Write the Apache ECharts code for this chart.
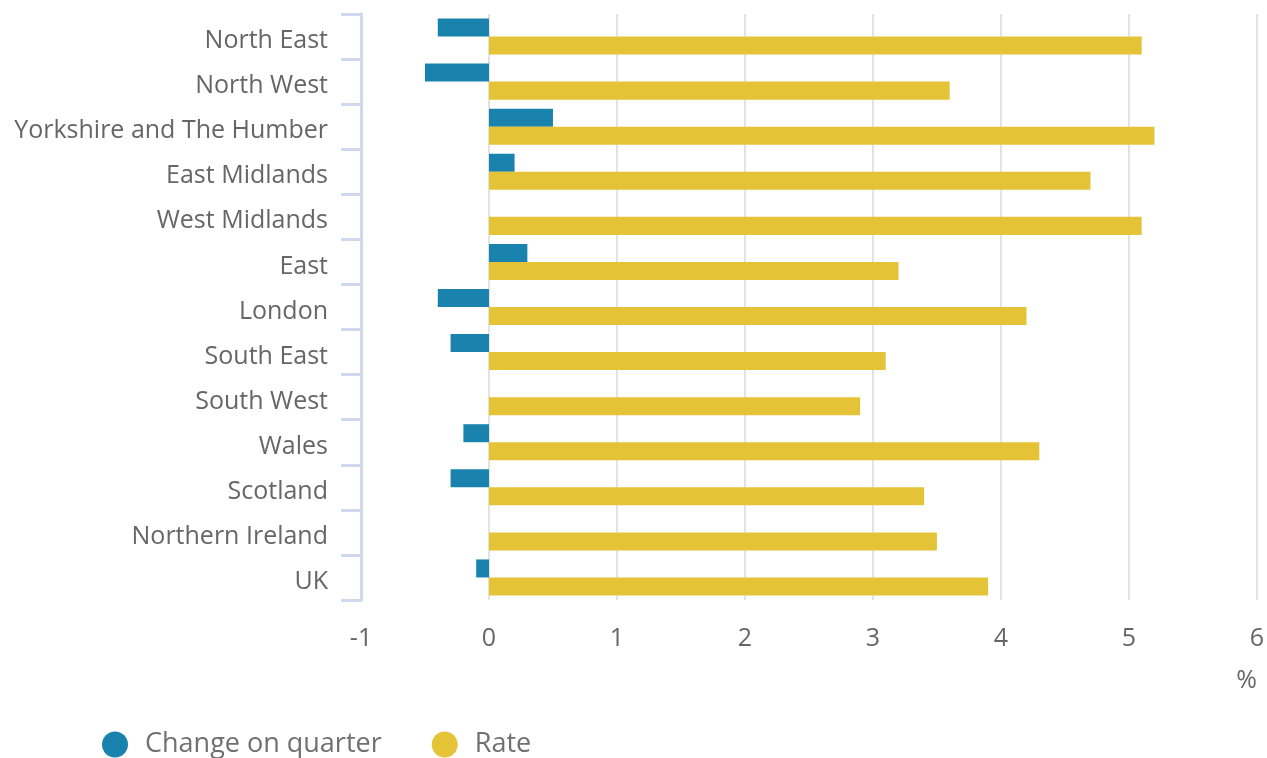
<!DOCTYPE html>
<html>
<head>
<meta charset="utf-8">
<script src="https://cdn.jsdelivr.net/npm/echarts@6/dist/echarts.min.js"></script>
<style>
  html, body { margin: 0; padding: 0; background: #fff; }
  #chart { width: 1267px; height: 758px; }
</style>
</head>
<body>
<div id="chart"></div>
<script>
// regions, top to bottom
const regions = [
  "North East", "North West", "Yorkshire and The Humber", "East Midlands",
  "West Midlands", "East", "London", "South East", "South West", "Wales",
  "Scotland", "Northern Ireland", "UK"
];
const changeOnQuarter = [-0.4, -0.5, 0.5, 0.2, 0, 0.3, -0.4, -0.3, 0, -0.2, -0.3, 0, -0.1];
const rate = [5.1, 3.6, 5.2, 4.7, 5.1, 3.2, 4.2, 3.1, 2.9, 4.3, 3.4, 3.5, 3.9];
const xTicks = { min: -1, max: 6, interval: 1 };

const font = "'Open Sans', 'Noto Sans', sans-serif";
const textColor = "#666666";

const chart = echarts.init(document.getElementById("chart"));

const option = {
  animation: false,
  grid: {
    left: 361,
    right: 10,
    top: 14,
    bottom: 158
  },
  legend: {
    left: 97,
    top: 726,
    icon: "circle",
    itemWidth: 26,
    itemHeight: 26,
    itemGap: 50,
    textStyle: {
      fontFamily: font,
      fontSize: 27,
      color: "#707070",
      padding: [0, 0, 0, 12]
    },
    data: ["Change on quarter", "Rate"]
  },
  xAxis: {
    type: "value",
    min: xTicks.min,
    max: xTicks.max,
    interval: xTicks.interval,
    axisLine: { show: false },
    axisTick: { show: false },
    splitLine: {
      lineStyle: { color: "#e3e3e3", width: 2 }
    },
    axisLabel: {
      color: textColor,
      fontFamily: font,
      fontSize: 25,
      margin: 26
    }
  },
  yAxis: {
    type: "category",
    inverse: true,
    data: regions,
    axisLine: {
      onZero: false,
      lineStyle: { color: "#cfd8ec", width: 3 }
    },
    axisTick: {
      show: true,
      length: 20,
      lineStyle: { color: "#cfd8ec", width: 3 }
    },
    axisLabel: {
      color: textColor,
      fontFamily: font,
      fontSize: 25,
      margin: 33,
      formatter: (v) => "{l|" + v + "}",
      rich: {
        l: {
          color: textColor,
          fontFamily: font,
          fontSize: 25,
          padding: [9, 0, 0, 0]
        }
      }
    }
  },
  graphic: [
    {
      type: "text",
      right: 10,
      top: 668,
      style: {
        text: "%",
        fill: textColor,
        font: "25px " + font
      }
    }
  ],
  series: [
    {
      name: "Change on quarter",
      type: "bar",
      data: changeOnQuarter,
      barGap: "0%",
      barCategoryGap: "20%",
      itemStyle: { color: "#1a83ad" }
    },
    {
      name: "Rate",
      type: "bar",
      data: rate,
      barGap: "0%",
      barCategoryGap: "20%",
      itemStyle: { color: "#e4c337" }
    }
  ]
};

chart.setOption(option);
</script>
</body>
</html>
